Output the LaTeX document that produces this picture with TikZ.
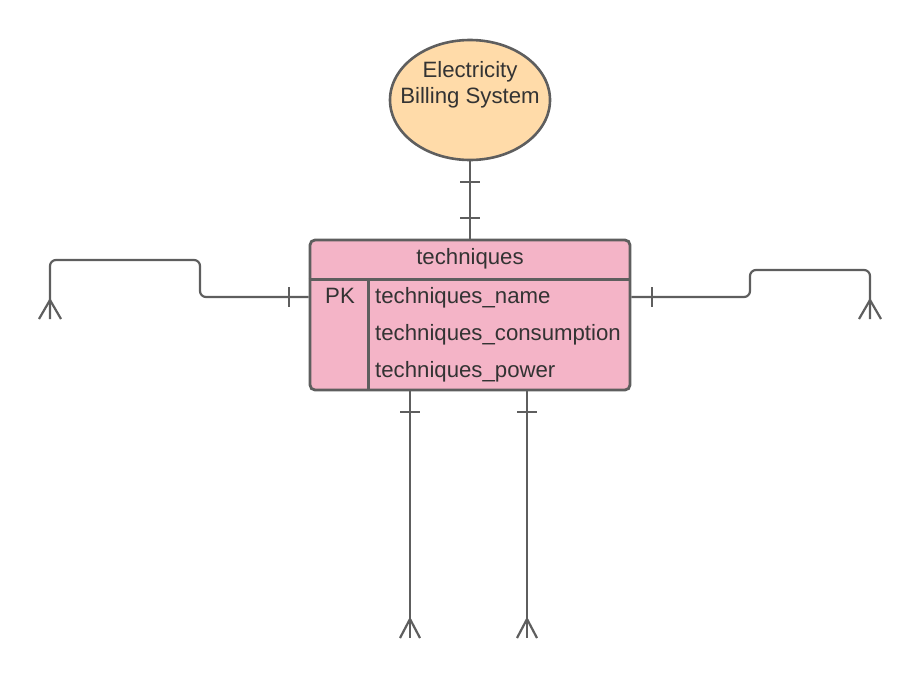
\documentclass[tikz,border=0pt]{standalone}
\usepackage{fontspec}
\setmainfont{Liberation Sans}
\usetikzlibrary{positioning, calc, shapes.geometric}
\definecolor{ErLine}{HTML}{5E5E5E}
\definecolor{ErInk}{HTML}{333333}
\definecolor{ErPeach}{HTML}{FFDBA9}
\definecolor{ErPink}{HTML}{F4B4C7}
\tikzset{
  sysell/.style  = {ellipse, draw=ErLine, fill=ErPeach, line width=2.6pt,
                    minimum width=160, minimum height=120, inner sep=0pt},
  entbox/.style  = {draw=ErLine, fill=ErPink, line width=2.8pt, rounded corners=5pt,
                    minimum width=320, minimum height=150, inner sep=0pt},
  erlbl/.style   = {text=ErInk, inner sep=0pt, font=\fontsize{22.2}{26}\selectfont},
  erline/.style  = {draw=ErLine, line width=2.8pt},
  conn/.style    = {draw=ErLine, line width=2.2pt, rounded corners=6pt},
  bar/.style     = {draw=ErLine, line width=2.2pt},
}

\begin{document}
\begin{tikzpicture}[x=1pt, y=-1pt]
  \useasboundingbox (0,0) rectangle (920,680);
  % system and entity
  \node[sysell] (sys) at (470,100) {};
  \node[erlbl, align=center, anchor=base] (systxt) at (470,103) {Electricity\\Billing System};
  \node[entbox] (tbl) at (470,315) {};
  \draw[erline] ($(tbl.north west)+(0,41)$) -- ($(tbl.north east)+(0,41)$);
  \draw[erline] ($(tbl.north west)+(60,41)$) -- ($(tbl.south west)+(60,0)$);
  \node[erlbl, anchor=base] (head) at (470,264) {techniques};
  \node[erlbl, anchor=base] (pk) at (340,303) {PK};
  \node[erlbl, anchor=base west] (fname) at (375,303) {techniques\_name};
  \node[erlbl, anchor=base west] (fcons) at (375,340) {techniques\_consumption};
  \node[erlbl, anchor=base west] (fpow) at (375,377) {techniques\_power};
  % free ends
  \coordinate (lfoot) at (50,319);
  \coordinate (rfoot) at (870,319);
  \coordinate (bfootA) at (410,638);
  \coordinate (bfootB) at (527,638);
  % one and only one: system -- entity
  \draw[conn] (sys.south) -- (tbl.north);
  \draw[bar] (460,182) -- (480,182);
  \draw[bar] (460,218) -- (480,218);
  % left relation
  \draw[conn] (tbl.west |- 0,297) -- (200,297) -- (200,260) -- (50,260) -- (lfoot);
  \draw[bar] (289,287) -- (289,307);
  \draw[bar] (39,319) -- (50,300) -- (61,319);
  % right relation
  \draw[conn] (tbl.east |- 0,297) -- (750,297) -- (750,270) -- (870,270) -- (rfoot);
  \draw[bar] (652,287) -- (652,307);
  \draw[bar] (859,319) -- (870,300) -- (881,319);
  % bottom relations
  \draw[conn] (tbl.south -| bfootA) -- (bfootA);
  \draw[bar] (400,412) -- (420,412);
  \draw[bar] (400,638) -- (410,619) -- (420,638);
  \draw[conn] (tbl.south -| bfootB) -- (bfootB);
  \draw[bar] (517,412) -- (537,412);
  \draw[bar] (517,638) -- (527,619) -- (537,638);
\end{tikzpicture}
\end{document}
